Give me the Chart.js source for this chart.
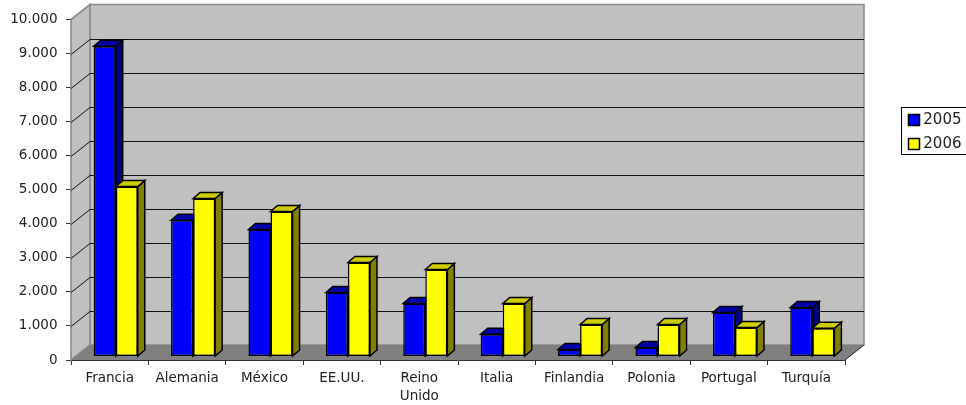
<!DOCTYPE html>
<html>
<head>
<meta charset="utf-8">
<script src="https://cdn.jsdelivr.net/npm/chart.js@4"></script>
<style>
  body { margin: 0; background: #fff; }
</style>
</head>
<body>
<canvas id="chart" width="966" height="405"></canvas>
<script>
const categories = ['Francia', 'Alemania', 'México', 'EE.UU.', ['Reino', 'Unido'], 'Italia', 'Finlandia', 'Polonia', 'Portugal', 'Turquía'];
const values2005 = [9110, 4000, 3730, 1880, 1560, 650, 205, 265, 1290, 1440];
const values2006 = [4990, 4640, 4260, 2760, 2555, 1556, 940, 940, 850, 830];
const yTickLabels = ['0', '1.000', '2.000', '3.000', '4.000', '5.000', '6.000', '7.000', '8.000', '9.000', '10.000'];

// depth of the box and of the bars, in pixels
const wallDx = 19, wallDy = -15;
const barShiftX = 6, barShiftY = -3.5;
const barDx = 7, barDy = -6;

function poly(ctx, pts, fill, stroke, width) {
  ctx.beginPath();
  pts.forEach((p, i) => i ? ctx.lineTo(p[0], p[1]) : ctx.moveTo(p[0], p[1]));
  ctx.closePath();
  ctx.fillStyle = fill;
  ctx.fill();
  if (stroke) {
    ctx.strokeStyle = stroke;
    ctx.lineWidth = width || 1;
    ctx.stroke();
  }
}

const box3d = {
  id: 'box3d',
  afterLayout(chart) {
    // legend sits right of the box
    const lg = chart.legend;
    lg.left = 899.5; lg.right = 961.5; lg.top = 103.5; lg.bottom = 405;
  },
  beforeDatasetsDraw(chart) {
    const { ctx, chartArea: a, scales: { y } } = chart;
    const top = y.getPixelForValue(10000), bot = y.getPixelForValue(0);
    ctx.save();
    // back wall, side wall, floor
    poly(ctx, [[a.left + wallDx, top + wallDy], [a.right + wallDx, top + wallDy], [a.right + wallDx, bot + wallDy], [a.left + wallDx, bot + wallDy]], '#c0c0c0', '#8c8c8c', 1.6);
    poly(ctx, [[a.left, bot], [a.left, top], [a.left + wallDx, top + wallDy], [a.left + wallDx, bot + wallDy]], '#c0c0c0', '#8c8c8c', 1.6);
    poly(ctx, [[a.left, bot], [a.left + wallDx, bot + wallDy], [a.right + wallDx, bot + wallDy], [a.right, bot]], '#808080', null);
    // gridlines run up the side wall and along the back
    ctx.strokeStyle = '#111';
    ctx.lineWidth = 1;
    ctx.beginPath();
    y.ticks.forEach(t => {
      if (t.value === 0 || t.value === 10000) return;
      const py = Math.round(y.getPixelForValue(t.value)) + 0.5;
      ctx.moveTo(a.left, py);
      ctx.lineTo(a.left + wallDx, py + wallDy);
      ctx.lineTo(a.right + wallDx, py + wallDy);
    });
    ctx.stroke();
    // floor edge on the right
    ctx.strokeStyle = '#222';
    ctx.beginPath();
    ctx.moveTo(a.right, bot);
    ctx.lineTo(a.right + wallDx, bot + wallDy);
    ctx.stroke();
    ctx.restore();
  },
  // chart.js paints the last dataset first, here 2006 must land on top of 2005
  beforeDatasetDraw() {
    return false;
  },
  afterDatasetsDraw(chart) {
    const ctx = chart.ctx;
    chart.data.datasets.forEach((ds, i) => {
      const meta = chart.getDatasetMeta(i);
      ctx.save();
      ctx.translate(barShiftX, barShiftY);
      meta.data.forEach(el => {
        const l = el.x - el.width / 2, r = el.x + el.width / 2;
        poly(ctx, [[r, el.y], [r + barDx, el.y + barDy], [r + barDx, el.base + barDy], [r, el.base]], ds.sideColor, '#000', 1.5);
        poly(ctx, [[l, el.y], [l + barDx, el.y + barDy], [r + barDx, el.y + barDy], [r, el.y]], ds.topColor, '#000', 1.5);
      });
      meta.controller.draw();
      ctx.restore();
    });
  },
  afterDraw(chart) {
    const ctx = chart.ctx;
    ctx.save();
    ctx.strokeStyle = '#000';
    ctx.lineWidth = 1;
    ctx.strokeRect(901.5, 107.5, 80, 47);
    ctx.restore();
  }
};

new Chart(document.getElementById('chart').getContext('2d'), {
  type: 'bar',
  data: {
    labels: categories,
    datasets: [
      { label: '2005', data: values2005, backgroundColor: '#0000ff', borderColor: '#000', borderWidth: 1.5, borderSkipped: false, sideColor: '#000080', topColor: '#0000a8' },
      { label: '2006', data: values2006, backgroundColor: '#ffff00', borderColor: '#000', borderWidth: 1.5, borderSkipped: false, sideColor: '#808000', topColor: '#cccc00' }
    ]
  },
  options: {
    responsive: false,
    animation: false,
    layout: { padding: { top: 19.5, right: 121, left: 0, bottom: 0 } },
    datasets: { bar: { categoryPercentage: 0.57, barPercentage: 1 } },
    scales: {
      x: {
        grid: { drawOnChartArea: false, color: '#333', tickLength: 5 },
        border: { color: '#333' },
        ticks: { color: '#222', font: { family: 'DejaVu Sans', size: 13.5, lineHeight: 1.37 }, maxRotation: 0, autoSkip: false, padding: 4 },
        afterFit(scale) { scale.height = 45; }
      },
      y: {
        min: 0,
        max: 10000,
        grid: { drawOnChartArea: false, color: '#333', tickLength: 5 },
        border: { color: '#333' },
        ticks: {
          stepSize: 1000,
          color: '#222',
          font: { family: 'DejaVu Sans', size: 13.5 },
          padding: 8.5,
          callback: (value, i) => yTickLabels[i]
        },
        afterFit(scale) { scale.width = 71; }
      }
    },
    plugins: {
      title: { display: false },
      tooltip: { enabled: false },
      legend: {
        position: 'chartArea',
        align: 'start',
        labels: { boxWidth: 11, boxHeight: 11, padding: 9, textAlign: 'right', color: '#222', font: { family: 'DejaVu Sans', size: 15 } }
      }
    }
  },
  plugins: [box3d]
});
</script>
</body>
</html>
